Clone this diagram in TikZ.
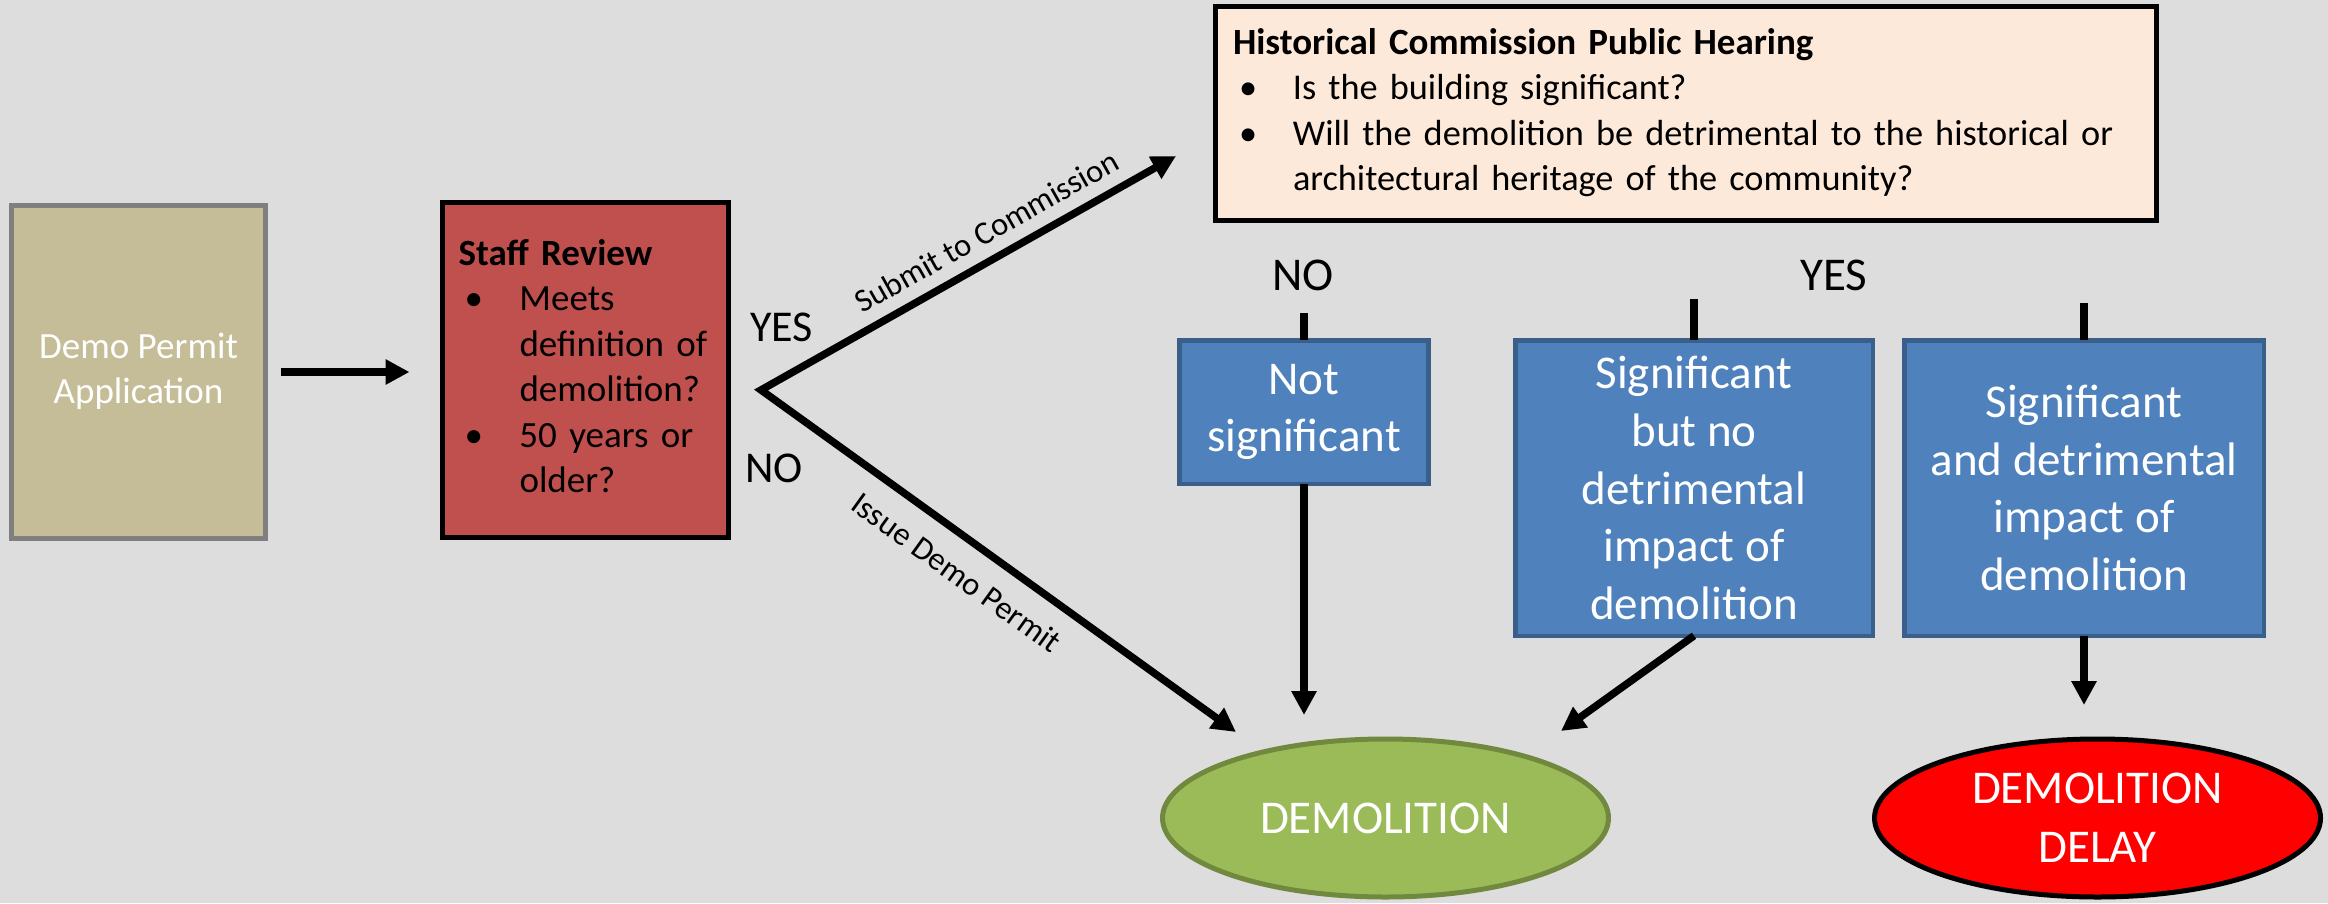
\documentclass[tikz,border=0pt]{standalone}
\usepackage{fontspec}
\setmainfont{Carlito}
\usetikzlibrary{arrows.meta,shapes.geometric}
\definecolor{bgc}{HTML}{DDDDDD}
\definecolor{tanf}{HTML}{C4BD97}
\definecolor{tanb}{HTML}{7F7F7F}
\definecolor{redbox}{HTML}{C0504D}
\definecolor{peach}{HTML}{FDE9D9}
\definecolor{bluef}{HTML}{4F81BD}
\definecolor{blueb}{HTML}{3A5F8B}
\definecolor{greenf}{HTML}{9BBB59}
\definecolor{greenb}{HTML}{71893F}
\definecolor{redf}{HTML}{FF0000}
\newcommand\bulitemA{\makebox[61pt][l]{\hspace*{6pt}\textbullet}}
\newcommand\bulitemB{\makebox[60pt][l]{\hspace*{6pt}\textbullet}}
\begin{document}
\begin{tikzpicture}[x=1pt,y=-1pt,
  every node/.style={inner sep=0pt, outer sep=0pt},
  arr/.style={line width=7.5pt, -{Triangle[length=24pt,width=24pt]}},
  seg/.style={line width=7.5pt},
  bluebox/.style={draw=blueb, line width=4.5pt, fill=bluef, text=white, align=center,
    font=\fontsize{47}{57.6}\selectfont},
  oval/.style={ellipse, line width=5pt, minimum width=446pt, minimum height=158pt,
    text=white, align=center, font=\fontsize{47}{59}\selectfont},
  biglabel/.style={font=\fontsize{47}{57}\selectfont},
  brlabel/.style={font=\fontsize{44}{53}\selectfont},
  slopelabel/.style={sloped, font=\fontsize{32.5}{38}\selectfont}
]
\fill[bgc] (0,0) rectangle (2328,903);
\useasboundingbox (0,0) rectangle (2328,903);

% boxes
\node[draw=tanb, line width=4.5pt, fill=tanf, minimum width=254pt, minimum height=333pt,
  text=white, align=center, font=\fontsize{37}{45.6}\selectfont] (app) at (138.5,372)
  {\strut Demo Permit\\Application\strut};

\node[draw=black, line width=5pt, fill=redbox, minimum width=286pt, minimum height=335pt,
  text width=254pt, align=left, font=\fontsize{37}{45.4}\selectfont] (staff) at (585.5,370)
  {\strut\textbf{Staff Review}\\
   \bulitemA Meets\\
   \hspace*{61pt}definition of\\
   \hspace*{61pt}demolition?\\
   \bulitemA 50 years or\\
   \hspace*{61pt}older?\strut};

\node[draw=black, line width=5pt, fill=peach, minimum width=941pt, minimum height=214pt,
  text width=906pt, align=left, font=\fontsize{36.3}{45.4}\selectfont] (hist) at (1686,113.5)
  {\strut{\fontsize{37}{45.4}\selectfont\textbf{Historical Commission Public Hearing}}\\
   \bulitemB Is the building significant?\\
   \bulitemB Will the demolition be detrimental to the historical or\\
   \hspace*{60pt}architectural heritage of the community?\strut};

\node[bluebox, minimum width=249pt, minimum height=143.5pt] (ns) at (1304,412)
  {Not\\significant};
\node[bluebox, minimum width=357.5pt, minimum height=295.5pt] (sbn) at (1694,488)
  {Significant\\but no\\detrimental\\impact of\\demolition};
\node[bluebox, minimum width=359.5pt, minimum height=295.5pt] (sad) at (2084,488)
  {Significant\\and detrimental\\impact of\\demolition};

\node[oval, draw=greenb, fill=greenf] (demo) at (1385.5,818) {DEMOLITION};
\node[oval, draw=black, fill=redf] (delay) at (2097.5,818) {DEMOLITION\\DELAY};

% labels
\node[brlabel, anchor=base west] (yes1) at (750,341) {YES};
\node[brlabel, anchor=base west] (no1) at (745,482) {NO};
\node[biglabel, anchor=base] (no2) at (1303,290) {NO};
\node[biglabel, anchor=base] (yes2) at (1834,290) {YES};

% connectors
\coordinate (br) at (761,390);
\coordinate (tipY) at (1176,156);
\coordinate (tipN) at (1236,732);
\coordinate (t2) at (1561,731);
\coordinate (cno) at (1304,313);
\coordinate (cyes) at (1694,299);
\coordinate (cdel) at (2084,303);

\draw[arr, shorten <=15pt, shorten >=33pt] (app.east) -- (app.east -| staff.west);
\draw[line width=7.5pt, miter limit=20,
  {Triangle[length=24pt,width=24pt]}-{Triangle[length=24pt,width=24pt]}]
  (tipY) -- node[slopelabel, above=16pt, pos=0.424] (lsub) {Submit to Commission}
  (br) -- node[slopelabel, below=22.5pt, pos=0.453] (liss) {Issue Demo Permit} (tipN);

\draw[seg] (cno) -- (ns.north);
\draw[seg] (cyes) -- (sbn.north);
\draw[seg] (cdel) -- (sad.north);

\draw[arr, shorten >=24pt] (ns.south) -- (ns.south |- demo.north);
\draw[arr] (sbn.south) -- (t2);
\draw[arr, shorten >=34pt] (sad.south) -- (sad.south |- delay.north);
\end{tikzpicture}
\end{document}
